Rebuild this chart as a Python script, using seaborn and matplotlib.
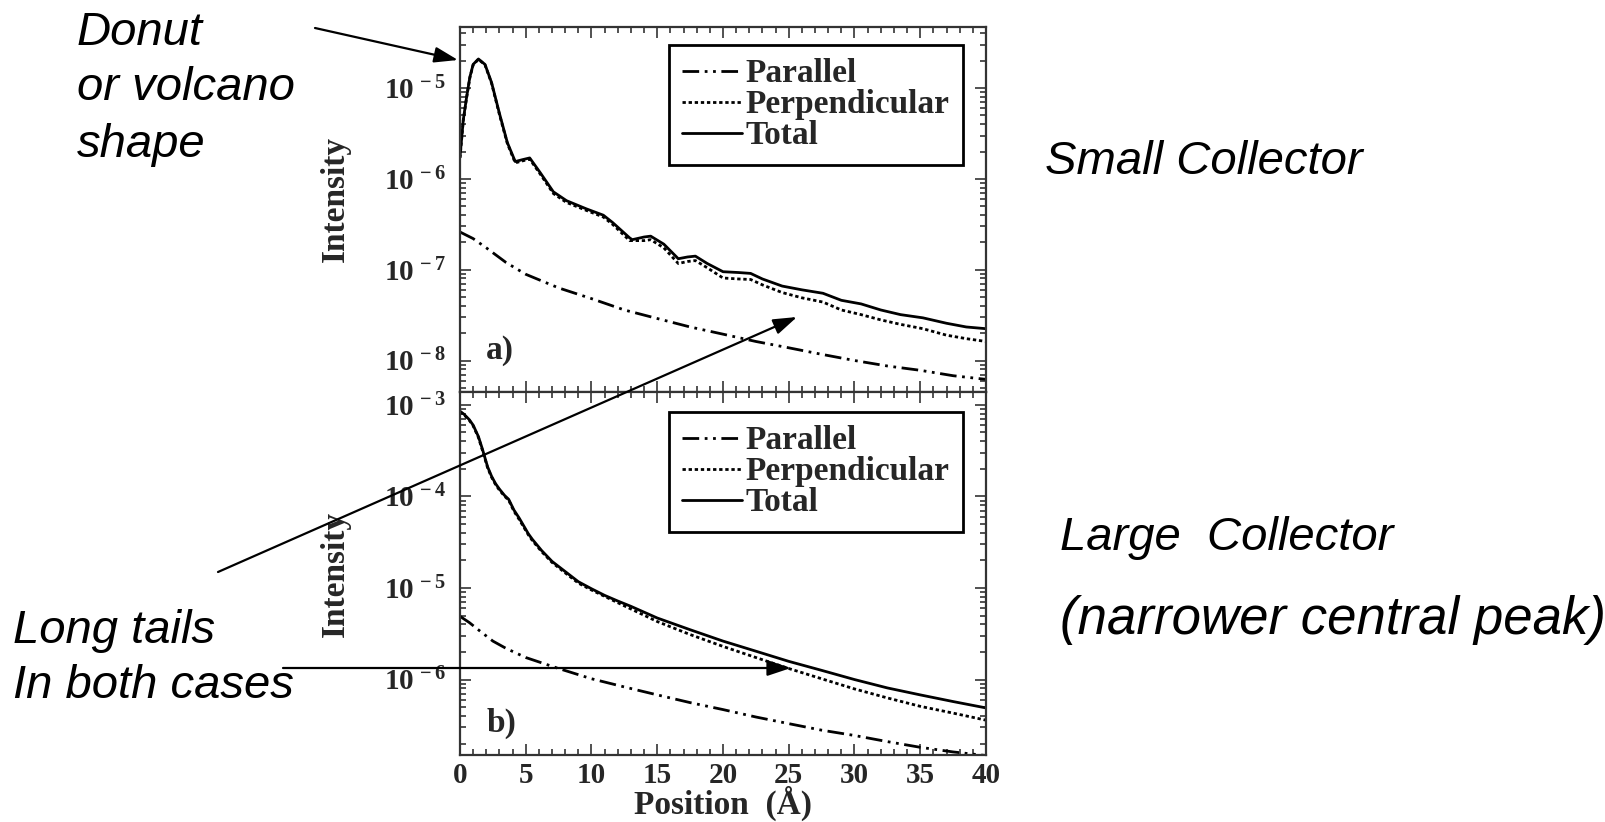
import numpy as np
import pandas as pd
import seaborn as sns
from matplotlib import pyplot as plt
from matplotlib.lines import Line2D
from matplotlib.patches import FancyArrowPatch
from matplotlib.ticker import LogLocator, NullFormatter, MultipleLocator, FuncFormatter

# panel a) small collector (position in Angstrom, intensity)
a_total_x = [0.0, 0.25, 0.5, 0.75, 1.0, 1.4, 1.9, 2.4, 3.0, 3.6, 4.2, 4.7, 5.3, 6.1, 7.1, 8.1,
             9.6, 10.9, 11.6, 12.9, 13.1, 14.0, 14.5, 15.5, 16.6, 17.3, 17.9, 18.8, 20.0, 21.2,
             22.1, 23.0, 24.5, 26.0, 27.6, 29.0, 30.5, 32.0, 33.5, 35.2, 37.0, 38.5, 40.0]
a_total_y = [1.74e-6, 4.47e-6, 7.9e-6, 1.32e-5, 1.82e-5, 2.09e-5, 1.82e-5, 1.15e-5, 5.25e-6,
             2.51e-6, 1.55e-6, 1.62e-6, 1.70e-6, 1.17e-6, 7.2e-7, 5.75e-7, 4.68e-7, 3.98e-7,
             3.31e-7, 2.24e-7, 2.14e-7, 2.29e-7, 2.34e-7, 1.91e-7, 1.32e-7, 1.38e-7, 1.41e-7,
             1.17e-7, 9.5e-8, 9.3e-8, 9.1e-8, 7.9e-8, 6.6e-8, 6.0e-8, 5.5e-8, 4.6e-8, 4.2e-8,
             3.6e-8, 3.2e-8, 2.95e-8, 2.57e-8, 2.34e-8, 2.24e-8]
a_perp_x = [0.0, 0.25, 0.5, 0.75, 1.0, 1.4, 1.9, 2.4, 3.0, 3.6, 4.2, 4.7, 5.3, 6.1, 7.1, 8.1,
            9.6, 10.9, 11.6, 12.9, 14.0, 14.5, 15.5, 16.6, 17.3, 17.9, 18.8, 20.0, 21.2,
            22.1, 23.0, 24.5, 26.0, 27.6, 29.0, 30.5, 32.0, 33.5, 35.2, 37.0, 38.5, 40.0]
a_perp_y = [1.70e-6, 4.4e-6, 7.8e-6, 1.3e-5, 1.8e-5, 2.07e-5, 1.8e-5, 1.13e-5, 5.1e-6,
            2.45e-6, 1.5e-6, 1.57e-6, 1.65e-6, 1.13e-6, 6.9e-7, 5.5e-7, 4.5e-7, 3.8e-7,
            3.16e-7, 2.09e-7, 2.09e-7, 2.14e-7, 1.74e-7, 1.17e-7, 1.23e-7, 1.26e-7, 1.05e-7,
            8.1e-8, 7.9e-8, 7.8e-8, 6.8e-8, 5.6e-8, 4.9e-8, 4.4e-8, 3.6e-8, 3.2e-8, 2.8e-8,
            2.5e-8, 2.24e-8, 1.9e-8, 1.74e-8, 1.62e-8]
a_par_x = [0.0, 1.0, 2.0, 3.5, 5.0, 7.5, 10.0, 12.5, 15.0, 17.5, 20.0, 22.5, 25.0, 27.5,
           30.0, 32.5, 35.0, 37.5, 40.0]
a_par_y = [2.6e-7, 2.2e-7, 1.74e-7, 1.2e-7, 8.9e-8, 6.3e-8, 4.8e-8, 3.6e-8, 2.9e-8, 2.34e-8,
           1.95e-8, 1.62e-8, 1.38e-8, 1.17e-8, 1.0e-8, 8.7e-9, 7.8e-9, 6.8e-9, 6.2e-9]

# panel b) large collector
b_total_x = [0.0, 0.3, 0.7, 1.0, 1.4, 1.7, 2.1, 2.4, 2.7, 3.0, 3.4, 3.7, 4.1, 4.5, 5.2, 5.5,
             6.2, 7.0, 7.9, 9.0, 10.0, 11.0, 12.0, 13.0, 15.0, 17.5, 20.0, 22.5, 25.0, 27.5,
             30.0, 32.5, 35.0, 37.5, 40.0]
b_total_y = [8.5e-4, 7.9e-4, 6.9e-4, 6.0e-4, 4.5e-4, 3.3e-4, 2.1e-4, 1.66e-4, 1.38e-4,
             1.2e-4, 1.02e-4, 9.3e-5, 7.1e-5, 5.8e-5, 3.9e-5, 3.4e-5, 2.57e-5, 1.95e-5,
             1.55e-5, 1.17e-5, 9.8e-6, 8.3e-6, 7.2e-6, 6.3e-6, 4.7e-6, 3.5e-6, 2.63e-6,
             2.04e-6, 1.58e-6, 1.26e-6, 1.0e-6, 8.1e-7, 6.8e-7, 5.75e-7, 4.9e-7]
b_perp_x = [0.0, 0.3, 0.7, 1.0, 1.4, 1.7, 2.1, 2.4, 2.7, 3.0, 3.4, 3.7, 4.1, 4.5, 5.2, 5.5,
            6.2, 7.0, 7.9, 9.0, 10.0, 12.0, 15.0, 17.5, 20.0, 22.5, 25.0, 27.5, 30.0, 32.5,
            35.0, 37.5, 40.0]
b_perp_y = [8.4e-4, 7.8e-4, 6.8e-4, 5.9e-4, 4.4e-4, 3.2e-4, 2.05e-4, 1.62e-4, 1.35e-4,
            1.17e-4, 1.0e-4, 9.1e-5, 6.9e-5, 5.6e-5, 3.8e-5, 3.3e-5, 2.5e-5, 1.9e-5,
            1.5e-5, 1.13e-5, 9.5e-6, 6.9e-6, 4.3e-6, 3.1e-6, 2.3e-6, 1.74e-6, 1.32e-6,
            1.02e-6, 7.9e-7, 6.3e-7, 5.1e-7, 4.3e-7, 3.6e-7]
b_par_x = [0.0, 0.7, 1.5, 2.5, 3.5, 5.0, 7.5, 10.0, 12.5, 15.0, 17.5, 20.0, 22.5, 25.0,
           27.5, 30.0, 32.5, 35.0, 37.5, 40.0]
b_par_y = [4.9e-6, 4.2e-6, 3.4e-6, 2.63e-6, 2.19e-6, 1.74e-6, 1.32e-6, 1.02e-6, 8.3e-7,
           6.8e-7, 5.6e-7, 4.7e-7, 3.9e-7, 3.3e-7, 2.8e-7, 2.45e-7, 2.1e-7, 1.82e-7,
           1.62e-7, 1.48e-7]

series_names = ["Parallel", "Perpendicular", "Total"]
panel_tags = ["a)", "b)"]
ylims = [(4.5e-9, 4.7e-5), (1.5e-7, 1.38e-3)]


def make_frame(par_x, par_y, perp_x, perp_y, tot_x, tot_y):
    parts = []
    for name, xs, ys in zip(series_names, [par_x, perp_x, tot_x], [par_y, perp_y, tot_y]):
        parts.append(pd.DataFrame({"pos": xs, "intensity": ys, "series": name}))
    return pd.concat(parts, ignore_index=True)


df_a = make_frame(a_par_x, a_par_y, a_perp_x, a_perp_y, a_total_x, a_total_y)
df_b = make_frame(b_par_x, b_par_y, b_perp_x, b_perp_y, b_total_x, b_total_y)

sns.set_theme(style="ticks")
plt.rcParams["font.family"] = ["Liberation Serif", "DejaVu Serif"]
plt.rcParams["font.weight"] = "bold"
plt.rcParams["mathtext.fontset"] = "custom"
plt.rcParams["mathtext.rm"] = "Liberation Serif:bold"
plt.rcParams["mathtext.bf"] = "Liberation Serif:bold"
plt.rcParams["mathtext.it"] = "Liberation Serif:bold"
plt.rcParams["mathtext.default"] = "rm"

W, H = 1606, 822
fig = plt.figure(figsize=(W / 100, H / 100), dpi=100)
fig.patch.set_facecolor("white")

dash_map = {"Parallel": (6, 2, 1, 2, 1, 2), "Perpendicular": (1.2, 1.0), "Total": ""}
lw = 2.0


def pos(x0, y0, x1, y1):
    return [x0 / W, 1 - y1 / H, (x1 - x0) / W, (y1 - y0) / H]


ax_a = fig.add_axes(pos(460, 27, 986, 392))
ax_b = fig.add_axes(pos(460, 392, 986, 755))

tag_y = [0.115, 0.088]
leg_top = [0.951, 0.945]

for ax, df, tag, ylim, ty, lt in zip([ax_a, ax_b], [df_a, df_b], panel_tags, ylims,
                                     tag_y, leg_top):
    sns.lineplot(data=df, x="pos", y="intensity", style="series", style_order=series_names,
                 dashes=dash_map, color="black", lw=lw, legend=False, sort=False,
                 estimator=None, ax=ax)
    ax.set_yscale("log")
    ax.set_xlim(0, 40)
    ax.set_ylim(*ylim)
    ax.set_facecolor("white")
    for sp in ax.spines.values():
        sp.set_visible(True)
        sp.set_linewidth(1.6)
        sp.set_color("#333333")
    ax.xaxis.set_major_locator(MultipleLocator(5))
    ax.xaxis.set_minor_locator(MultipleLocator(1))
    ax.yaxis.set_major_locator(LogLocator(base=10, numticks=20))
    ax.yaxis.set_minor_locator(LogLocator(base=10, subs=np.arange(2, 10), numticks=20))
    ax.yaxis.set_minor_formatter(NullFormatter())
    ax.yaxis.set_major_formatter(FuncFormatter(
        lambda v, p: r"$10^{\,%d}$" % int(round(np.log10(v)))))
    ax.tick_params(which="both", direction="in", top=True, right=True, color="#333333",
                   width=1.2, labelsize=21)
    ax.tick_params(axis="y", pad=10)
    ax.tick_params(axis="x", pad=5)
    ax.tick_params(which="major", length=8)
    ax.tick_params(which="minor", length=4)
    ax.set_ylabel("Intensity", fontsize=24, fontweight="bold")
    ax.set_xlabel("")
    ax.text(0.05, ty, tag, transform=ax.transAxes, fontsize=24, fontweight="bold",
            ha="left", va="center")

    handles = [Line2D([], [], color="black", lw=lw, dashes=dash_map[n]) if dash_map[n]
               else Line2D([], [], color="black", lw=lw) for n in series_names]
    leg = ax.legend(handles, series_names, loc="upper right",
                    bbox_to_anchor=(0.956, lt), borderaxespad=0, fancybox=False,
                    framealpha=1, edgecolor="black", handlelength=1.8, handletextpad=0.1,
                    labelspacing=0.0, borderpad=0.4,
                    prop={"family": "Liberation Serif", "weight": "bold", "size": 24})
    leg.get_frame().set_linewidth(2.0)

ax_a.tick_params(labelbottom=False)
ax_a.yaxis.set_label_coords(-0.207, 0.53)
ax_b.yaxis.set_label_coords(-0.207, 0.5)
ax_b.set_xlabel("Position  (Å)", fontsize=24, fontweight="bold", labelpad=-2)

# annotations drawn on the whole figure
note_font = dict(family=["Liberation Sans", "DejaVu Sans"], style="italic",
                 fontweight="normal", color="black", va="baseline", ha="left")
notes = [
    ("Donut", 77, 45, 34),
    ("or volcano", 77, 100, 34),
    ("shape", 77, 157, 34),
    ("Long tails", 13, 643, 34),
    ("In both cases", 13, 698, 34),
    ("Small Collector", 1045, 174, 34),
    ("Large  Collector", 1060, 550, 34),
    ("(narrower central peak)", 1060, 634, 38),
]
for s, x, y, size in notes:
    fig.text(x / W, 1 - y / H, s, fontsize=size, **note_font)

arrows = [((315, 28), (458, 60)), ((218, 572), (797, 317)), ((283, 668), (791, 668))]
for (x0, y0), (x1, y1) in arrows:
    fig.add_artist(FancyArrowPatch((x0 / W, 1 - y0 / H), (x1 / W, 1 - y1 / H),
                                   transform=fig.transFigure,
                                   arrowstyle="-|>,head_length=0.45,head_width=0.15",
                                   mutation_scale=32, lw=1.6, color="black",
                                   shrinkA=0, shrinkB=0))

fig.savefig("out.png", dpi=100, facecolor="white")
